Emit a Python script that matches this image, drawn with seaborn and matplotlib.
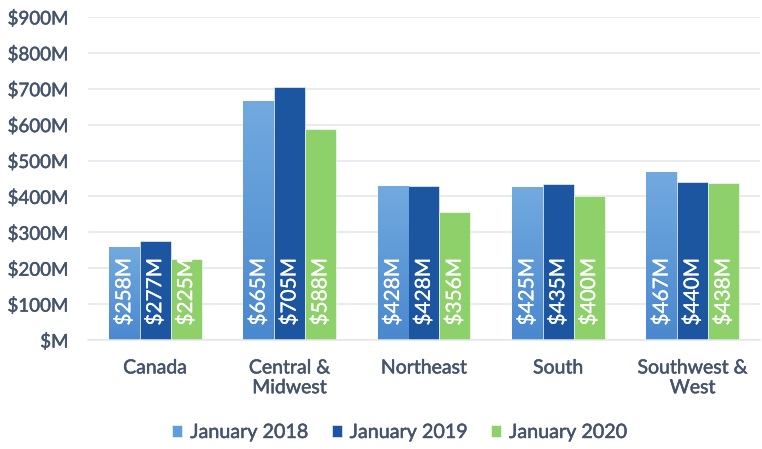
import matplotlib
matplotlib.use("Agg")
import matplotlib.pyplot as plt
import matplotlib.patheffects as pe
import numpy as np
import pandas as pd
import seaborn as sns
from matplotlib.colors import LinearSegmentedColormap

regions = ["Canada", "Central &\nMidwest", "Northeast", "South", "Southwest &\nWest"]
series_names = ["January 2018", "January 2019", "January 2020"]
jan2018 = [258, 665, 428, 425, 467]
jan2019 = [277, 705, 428, 435, 440]
jan2020 = [225, 588, 356, 400, 438]
y_ticks = [0, 100, 200, 300, 400, 500, 600, 700, 800, 900]

colors = ["#5f9ddb", "#1c56a0", "#8ed16a"]
text_color = "#44546a"

rows = []
for name, vals in zip(series_names, [jan2018, jan2019, jan2020]):
    for r, v in zip(regions, vals):
        rows.append({"Region": r, "Series": name, "Value": v})
df = pd.DataFrame(rows)

sns.set_theme(style="white")
plt.rcParams["font.family"] = ["Lato", "DejaVu Sans"]

def medium(color, lw=0.35):
    return [pe.withStroke(linewidth=lw, foreground=color)]

fig = plt.figure(figsize=(7.62, 4.49), dpi=100)
ax = fig.add_axes([0.1155, 0.2428, 0.8815, 0.7195])

sns.barplot(data=df, x="Region", y="Value", hue="Series", order=regions,
            hue_order=series_names, palette=colors, width=0.69, gap=0,
            saturation=1, ax=ax, legend=True, edgecolor="white", linewidth=0.4)

ax.set_ylim(0, 900)
ax.set_yticks(y_ticks)
ax.set_yticklabels([f"${v}M" if v else "$M" for v in y_ticks])
ax.set_xlabel("")
ax.set_ylabel("")
ax.yaxis.grid(True, color="#e3e6ec", linewidth=1.1)
ax.set_axisbelow(True)
for s in ["top", "right", "left"]:
    ax.spines[s].set_visible(False)
ax.spines["bottom"].set_color("#e3e6ec")
ax.spines["bottom"].set_linewidth(1.1)
ax.tick_params(axis="y", length=0, pad=14, labelsize=13.5, labelcolor=text_color)
ax.tick_params(axis="x", length=0, pad=14, labelsize=14, labelcolor=text_color)
for lab in ax.get_xticklabels() + ax.get_yticklabels():
    lab.set_path_effects(medium(text_color))
    lab.set_linespacing(1.2)
ax.set_xlim(-0.5, 4.5)

# gradient for the first series (light blue)
cmap = LinearSegmentedColormap.from_list("lb", ["#4a88cf", "#72aadf"])
grad = np.linspace(0, 1, 256).reshape(-1, 1)
for container, name in zip(ax.containers, series_names):
    for bar in container:
        x0, w, h = bar.get_x(), bar.get_width(), bar.get_height()
        if name == "January 2018":
            im = ax.imshow(grad, cmap=cmap, aspect="auto", origin="lower",
                           extent=[x0, x0 + w, 0, h], zorder=bar.get_zorder())
            im.set_clip_path(bar)
        ax.text(x0 + w / 2, 40, f"${h:.0f}M", rotation=90, ha="center",
                va="bottom", color="white", fontsize=15, zorder=5,
                path_effects=medium("white", 0.15))

ax.set_xlim(-0.5, 4.5)
ax.set_ylim(0, 900)

leg = ax.legend(loc="upper center", bbox_to_anchor=(0.464, -0.205), ncol=3,
                frameon=False, handlelength=0.5, handleheight=0.5,
                handletextpad=0.4, columnspacing=1.2, labelcolor=text_color,
                prop={"size": 14.2})
for t in leg.get_texts():
    t.set_path_effects(medium(text_color))

fig.savefig("out.png", dpi=100)
